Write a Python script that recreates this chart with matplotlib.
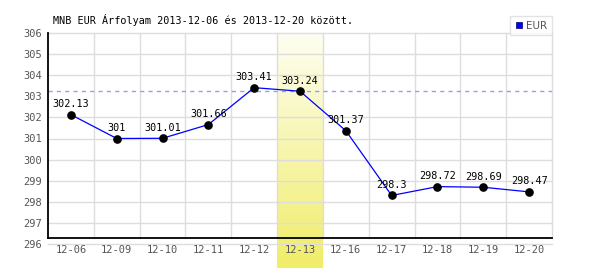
import matplotlib
matplotlib.use("Agg")
import matplotlib.pyplot as plt
import numpy as np
from matplotlib.lines import Line2D
from matplotlib.colors import LinearSegmentedColormap

dates = ["12-06", "12-09", "12-10", "12-11", "12-12", "12-13", "12-16", "12-17", "12-18", "12-19", "12-20"]
values = [302.13, 301.0, 301.01, 301.66, 303.41, 303.24, 301.37, 298.3, 298.72, 298.69, 298.47]
labels = ["302.13", "301", "301.01", "301.66", "303.41", "303.24", "301.37", "298.3", "298.72", "298.69", "298.47"]
highlight_idx = 5
ref_value = 303.24
yticks = [296, 297, 298, 299, 300, 301, 302, 303, 304, 305, 306]
title = "MNB EUR Árfolyam 2013-12-06 és 2013-12-20 között."
series_name = "EUR"

mono = "DejaVu Sans Mono"
fig = plt.figure(figsize=(6, 2.7), dpi=100)
ax = fig.add_axes([48/600, 1-244/270, (552-48)/600, (244-33)/270])

ymin, ymax = 296, 306
axis_y = 296.28
x = np.arange(len(dates))

# highlight band with gradient
grad = np.linspace(0, 1, 256).reshape(-1, 1)
cmap = LinearSegmentedColormap.from_list("yl", ["#fefef2", "#f0ed68"])
band_bottom = ymin - (268-244)/21.1
ax.imshow(grad, extent=(highlight_idx-0.5, highlight_idx+0.5, band_bottom, ymax),
          origin="upper", aspect="auto", cmap=cmap, zorder=0, clip_on=False)
ax.set_xlim(-0.5, len(dates)-0.5)
ax.set_ylim(ymin, ymax)

# grid
for yv in yticks:
    if yv == 303:
        continue
    ax.plot([-0.5, len(dates)-0.5], [yv, yv], color="#dddddd", lw=1, zorder=1, clip_on=False)
for i in range(1, len(dates)+1):
    ax.plot([i-0.5, i-0.5], [axis_y, ymax], color="#dddddd", lw=1, zorder=1, clip_on=False)

ax.axhline(ref_value, color="#9999ff", lw=1, ls=(0, (3, 3)), zorder=2)

# axes lines
ax.plot([-0.5, len(dates)-0.5], [axis_y, axis_y], color="black", lw=1.3, zorder=3, clip_on=False)
ax.plot([-0.5, -0.5], [axis_y, ymax], color="black", lw=1.3, zorder=3, clip_on=False)

for s in ax.spines.values():
    s.set_visible(False)

ax.plot(x, values, color="#0000ff", lw=0.9, zorder=4)
ax.plot(x, values, "o", color="black", ms=5.2, zorder=5)

for xi, v, lab in zip(x, values, labels):
    ax.annotate(lab, (xi, v), xytext=(0, 7.5), textcoords="offset points",
                ha="center", va="center", fontsize=7.3, family=mono, color="black", zorder=6)

ax.set_xticks(x)
ax.set_xticklabels(dates)
ax.set_yticks(yticks)
ax.tick_params(axis="both", length=0, labelsize=7.5, labelcolor="#555555")
ax.tick_params(axis="x", pad=1)
ax.tick_params(axis="y", pad=4)
for t in ax.get_xticklabels() + ax.get_yticklabels():
    t.set_family(mono)

fig.text(53/600, 1-20/270, title, ha="left", va="center", fontsize=7.3, family=mono, color="black")

handle = Line2D([], [], marker="s", color="#0000ff", ls="none", markersize=5,
                markeredgecolor="#000066", markeredgewidth=0.5)
leg = fig.legend([handle], [series_name], loc="upper right",
                 bbox_to_anchor=(552/600, 1-16/270), frameon=True, fancybox=False,
                 prop={"family": "DejaVu Sans", "size": 7.5}, handlelength=0.8,
                 handletextpad=0.3, borderpad=0.45, borderaxespad=0)
leg.get_frame().set_edgecolor("#dddddd")
leg.get_frame().set_linewidth(1)
for t in leg.get_texts():
    t.set_color("#555555")

fig.savefig("out.png", dpi=100)
